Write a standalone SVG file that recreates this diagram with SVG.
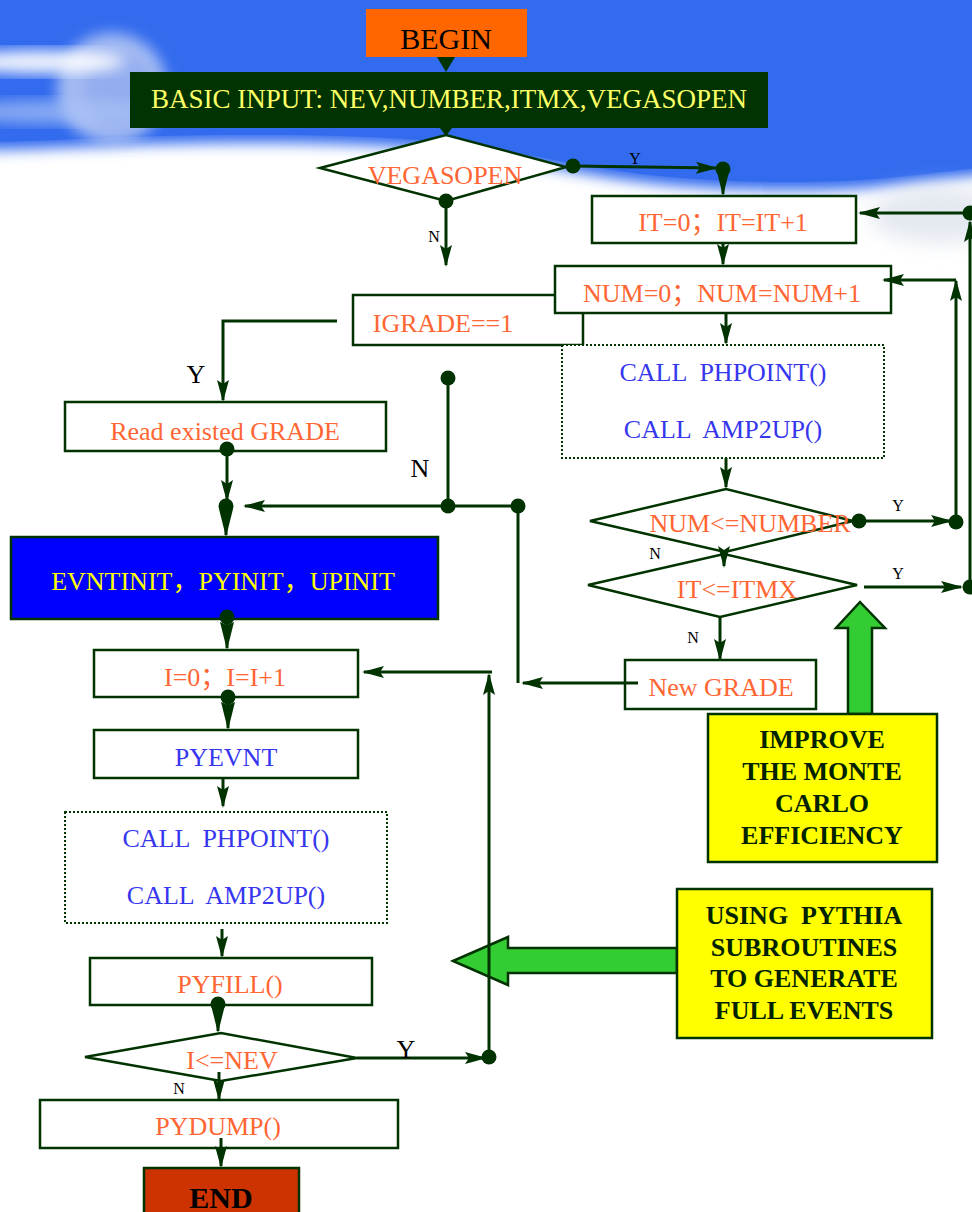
<svg xmlns="http://www.w3.org/2000/svg" width="972" height="1212" viewBox="0 0 972 1212">
<defs>
<style>
text{font-family:"Liberation Serif","Noto Sans CJK SC",serif;text-anchor:middle;white-space:pre}
.o{fill:#FF6633;font-size:26px}
.b{fill:#3636EE;font-size:26px}
.k{fill:#000;font-size:16px}
.kl{fill:#000;font-size:26px}
.bx{fill:#fff;stroke:#003300;stroke-width:2.5}
.dt{fill:#fff;stroke:#003300;stroke-width:2;stroke-dasharray:2,2}
.y{fill:#FFFF00;stroke:#003300;stroke-width:2.5}
.yt{fill:#002200;font-size:26px;font-weight:bold}
.g{fill:#33CC33;stroke:#003300;stroke-width:2.5}
.c{fill:none;stroke:#003300;stroke-width:3}
.a{marker-end:url(#ah)}
.al{marker-end:url(#ahl)}
.d{fill:#003300}
</style>
<marker id="ah" markerUnits="userSpaceOnUse" markerWidth="22" markerHeight="14" viewBox="0 0 22 14" refX="20" refY="7" orient="auto"><path d="M0,1 L22,7 L0,13 L4,7 z" fill="#003300"/></marker>
<marker id="ahl" markerUnits="userSpaceOnUse" markerWidth="28" markerHeight="16" viewBox="0 0 28 16" refX="26" refY="8" orient="auto"><path d="M0,1 L28,8 L0,15 L3,8 z" fill="#003300"/></marker>
<filter id="blur" x="-20%" y="-20%" width="140%" height="140%"><feGaussianBlur stdDeviation="7"/></filter>
<filter id="blur2" x="-50%" y="-50%" width="200%" height="200%"><feGaussianBlur stdDeviation="10"/></filter>
</defs>

<g id="background">
<rect x="0" y="0" width="972" height="1212" fill="#fff"/>
<path d="M-30,-30 H1002 V172 C940,180 880,190 800,190 C720,190 660,186 600,176 C540,166 480,152 420,148 C340,142 250,142 160,144 C90,146 30,150 -30,150 Z" fill="#336BEE" filter="url(#blur)"/>
<path d="M-30,-30 H1002 V165 C940,172 880,182 800,182 C720,182 660,178 600,168 C540,158 480,144 420,140 C340,134 250,134 160,136 C90,138 30,142 -30,142 Z" fill="#336BEE"/>
<ellipse cx="940" cy="215" rx="70" ry="28" fill="#e4e8f0" filter="url(#blur2)"/>
<circle cx="112" cy="88" r="55" fill="#c9d6f4" opacity="0.75" filter="url(#blur)"/>
<circle cx="120" cy="92" r="36" fill="#8ea8ee" opacity="0.7" filter="url(#blur)"/>
<ellipse cx="40" cy="62" rx="85" ry="12" fill="#ffffff" opacity="0.9" filter="url(#blur)"/>
<ellipse cx="60" cy="112" rx="110" ry="12" fill="#a9c2f6" opacity="0.7" filter="url(#blur)"/>
</g>

<g id="begin">
<rect x="366" y="9" width="161" height="48" fill="#FF6600"/>
<text x="446" y="49" style="font-size:30px;fill:#000">BEGIN</text>
</g>
<g id="basic-input">
<rect x="130" y="72" width="638" height="56" fill="#003300"/>
<text x="449" y="108" style="font-size:27px;fill:#FFFF66">BASIC INPUT: NEV,NUMBER,ITMX,VEGASOPEN</text>
</g>
<g id="vegasopen">
<polygon class="bx" points="320,168 446,135 566,167 446,201"/>
<text class="o" x="445" y="184">VEGASOPEN</text>
</g>
<g id="it-init">
<rect class="bx" x="592" y="196" width="264" height="47"/>
<text class="o" x="723" y="231">IT=0；IT=IT+1</text>
</g>
<g id="igrade">
<rect class="bx" x="353" y="295" width="230" height="50"/>
<text class="o" x="443" y="332">IGRADE==1</text>
</g>
<g id="num-init">
<rect class="bx" x="555" y="266" width="336" height="47"/>
<text class="o" x="722" y="302">NUM=0；NUM=NUM+1</text>
</g>
<g id="call-vegas">
<rect class="dt" x="562" y="345" width="322" height="113"/>
<text class="b" x="723" y="381">CALL  PHPOINT()</text>
<text class="b" x="723" y="438">CALL  AMP2UP()</text>
</g>
<g id="num-check">
<polygon class="bx" points="590,521 726,489 853,521 725,552"/>
<text class="o" x="750" y="532">NUM&lt;=NUMBER</text>
</g>
<g id="it-check">
<polygon class="bx" points="588,585 724,554 857,585 720,617"/>
<text class="o" x="737" y="598">IT&lt;=ITMX</text>
</g>
<g id="new-grade">
<rect class="bx" x="625" y="660" width="191" height="49"/>
<text class="o" x="721" y="696">New GRADE</text>
</g>
<g id="read-grade">
<rect class="bx" x="65" y="402" width="321" height="49"/>
<text class="o" x="225" y="440">Read existed GRADE</text>
</g>
<g id="evntinit">
<rect x="11" y="537" width="427" height="82" fill="#0000FF" stroke="#003300" stroke-width="2.5"/>
<text x="223" y="590" style="font-size:26px;fill:#FFFF00">EVNTINIT，PYINIT，UPINIT</text>
</g>
<g id="i-init">
<rect class="bx" x="94" y="650" width="264" height="47"/>
<text class="o" x="225" y="686">I=0；I=I+1</text>
</g>
<g id="pyevnt">
<rect class="bx" x="94" y="730" width="264" height="48"/>
<text class="b" x="226" y="766">PYEVNT</text>
</g>
<g id="call-event">
<rect class="dt" x="65" y="812" width="322" height="111"/>
<text class="b" x="226" y="847">CALL  PHPOINT()</text>
<text class="b" x="226" y="904">CALL  AMP2UP()</text>
</g>
<g id="pyfill">
<rect class="bx" x="90" y="958" width="282" height="47"/>
<text class="o" x="230" y="993">PYFILL()</text>
</g>
<g id="i-check">
<polygon class="bx" points="85,1057 221,1033 357,1058 221,1081"/>
<text class="o" x="232" y="1069">I&lt;=NEV</text>
</g>
<g id="pydump">
<rect class="bx" x="40" y="1100" width="358" height="48"/>
<text class="o" x="218" y="1135">PYDUMP()</text>
</g>
<g id="end">
<rect x="144" y="1168" width="155" height="60" fill="#CC3300" stroke="#003300" stroke-width="2.5"/>
<text x="221" y="1208" style="font-size:30px;font-weight:bold;fill:#000">END</text>
</g>

<g id="improve-note">
<polygon class="g" points="860,602 885,628 872,628 872,714 848,714 848,628 836,628"/>
<rect class="y" x="708" y="714" width="229" height="148"/>
<text class="yt" x="822" y="748">IMPROVE</text>
<text class="yt" x="822" y="780">THE MONTE</text>
<text class="yt" x="822" y="812">CARLO</text>
<text class="yt" x="822" y="844">EFFICIENCY</text>
</g>
<g id="pythia-note">
<polygon class="g" points="453,961 508,937 508,948 677,948 677,973 508,973 508,985"/>
<rect class="y" x="677" y="889" width="255" height="149"/>
<text class="yt" x="804" y="924">USING  PYTHIA</text>
<text class="yt" x="804" y="956">SUBROUTINES</text>
<text class="yt" x="804" y="987">TO GENERATE</text>
<text class="yt" x="804" y="1019">FULL EVENTS</text>
</g>

<g id="connectors">
<path class="d" d="M437,57 L455,57 L446,72 z"/>
<path class="d" d="M440,128 L452,128 L446,136 z"/>
<circle class="d" cx="446" cy="201" r="7.5"/>
<path class="c a" d="M446,201 V265"/>
<text class="k" x="434" y="242">N</text>
<circle class="d" cx="573" cy="166" r="7.5"/>
<path class="c a" d="M573,166 L716,168"/>
<text class="k" x="635" y="164">Y</text>
<circle class="d" cx="723" cy="169" r="7.5"/>
<path class="c al" d="M723,169 V194"/>
<path class="c a" d="M723,243 V264"/>
<path class="c a" d="M337,321 H223 V400"/>
<text class="kl" x="196" y="383">Y</text>
<circle class="d" cx="227" cy="449" r="7.5"/>
<path class="c a" d="M227,449 V500"/>
<circle class="d" cx="226" cy="506" r="7.5"/>
<path class="c al" d="M226,506 V535"/>
<circle class="d" cx="448" cy="378" r="7.5"/>
<path class="c" d="M448,378 V506"/>
<text class="kl" x="420" y="477">N</text>
<circle class="d" cx="448" cy="506" r="7.5"/>
<path class="c a" d="M518,506 H245"/>
<circle class="d" cx="518" cy="506" r="7.5"/>
<path class="c" d="M518,506 V683"/>
<path class="c a" d="M638,683 H523"/>
<circle class="d" cx="227" cy="617" r="7.5"/>
<path class="c al" d="M227,617 V648"/>
<circle class="d" cx="228" cy="697" r="7.5"/>
<path class="c al" d="M228,697 V728"/>
<path class="c a" d="M223,778 V806"/>
<path class="c a" d="M222,929 V956"/>
<circle class="d" cx="218" cy="1004" r="7.5"/>
<path class="c al" d="M218,1004 V1031"/>
<path class="c a" d="M219,1072 V1099"/>
<text class="k" x="179" y="1094">N</text>
<path class="c a" d="M221,1138 V1166"/>
<path class="c a" d="M357,1058 H485"/>
<text class="kl" x="406" y="1058">Y</text>
<circle class="d" cx="489" cy="1057" r="7.5"/>
<path class="c a" d="M489,1057 V675"/>
<path class="c a" d="M492,672 H364"/>
<path class="c a" d="M726,313 V343"/>
<path class="c a" d="M726,458 V487"/>
<path class="c a" d="M724,552 V566"/>
<text class="k" x="655" y="559">N</text>
<circle class="d" cx="859" cy="521" r="7.5"/>
<path class="c a" d="M859,521 H951"/>
<text class="k" x="898" y="511">Y</text>
<circle class="d" cx="956" cy="522" r="7.5"/>
<path class="c a" d="M956,522 V281"/>
<path class="c a" d="M956,280 H884"/>
<path class="c a" d="M864,587 H961"/>
<text class="k" x="898" y="579">Y</text>
<circle class="d" cx="970" cy="587" r="7.5"/>
<path class="c a" d="M970,587 V222"/>
<circle class="d" cx="970" cy="213" r="7.5"/>
<path class="c a" d="M970,213 H860"/>
<path class="c a" d="M720,617 V659"/>
<text class="k" x="693" y="643">N</text>
</g>
</svg>
